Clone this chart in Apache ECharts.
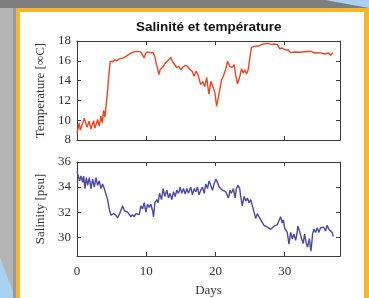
<!DOCTYPE html>
<html>
<head>
<meta charset="utf-8">
<script src="https://cdn.jsdelivr.net/npm/echarts@6/dist/echarts.min.js"></script>
<style>html,body{margin:0;padding:0;}#c{width:369px;height:298px;}</style>
</head>
<body>
<div id="c"></div>
<script>
// ---- data ----
const titleText = 'Salinité et température';
const xTicks = [0, 10, 20, 30];
const tempTicks = [8, 10, 12, 14, 16, 18];
const salTicks = [30, 32, 34, 36];

const tempDays = [0,0.33,0.48,1.05,1.44,1.77,2.01,2.40,2.59,2.97,3.21,3.45,3.65,3.84,4.03,4.22,4.41,4.61,4.80,4.99,
  5.18,5.47,5.76,6.10,6.34,6.72,7.06,7.39,7.87,8.26,8.64,8.88,9.22,9.46,9.70,9.94,10.27,10.66,10.95,11.24,
  11.43,11.62,11.82,12.01,12.20,12.49,12.78,12.97,13.26,13.54,13.83,14.12,14.41,14.70,14.99,15.27,15.66,15.95,16.33,16.62,
  16.91,17.20,17.48,17.87,18.16,18.45,18.74,
  19.06,19.35,19.54,19.78,19.93,20.17,20.41,20.65,20.89,21.13,21.47,21.75,22.09,22.43,22.71,22.91,23.19,23.53,23.77,24.01,
  24.25,24.49,24.73,24.97,25.21,25.60,26.17,26.89,27.61,28.09,28.57,28.96,29.29,29.63,30.01,30.49,30.88,31.46,32.18,32.90,
  33.76,34.34,35.06,35.78,36.36,36.64,36.98];
const temperature = [8.7,9.7,9.0,10.2,9.3,9.9,9.1,9.95,9.2,10.05,9.4,10.4,9.7,11.0,10.3,11.6,12.9,14.6,15.95,16.1,
  15.9,16.1,16.0,16.2,16.0,16.3,16.45,16.6,16.8,16.9,16.95,17.1,16.9,16.8,16.3,16.8,16.9,16.8,16.85,16.45,
  15.8,15.3,14.6,15.1,14.95,15.45,15.8,15.6,16.1,16.35,15.9,15.6,15.3,15.45,15.1,15.35,15.55,15.45,15.1,14.95,
  14.45,14.95,14.6,13.6,13.9,13.4,14.3,
  12.64,13.93,13.59,13.09,12.76,11.41,12.25,12.32,14.09,14.43,15.10,15.95,15.44,15.34,15.61,14.60,13.66,14.43,15.2,14.77,
  15.10,14.66,15.10,16.28,17.36,17.46,17.49,17.7,17.76,17.66,17.7,17.63,17.22,17.29,17.12,17.09,16.82,16.89,16.86,16.92,
  16.96,16.79,16.82,16.69,16.79,16.55,16.82];

const salDays = [0,0.19,0.38,0.58,0.82,0.96,1.15,1.35,1.54,1.78,2.02,2.26,2.50,2.74,2.98,3.22,3.46,3.70,3.94,4.18,
  4.42,4.66,4.90,5.29,5.63,5.87,6.25,6.59,6.83,7.07,7.31,7.55,7.79,8.03,8.27,8.51,8.75,8.99,9.23,9.47,
  9.71,9.95,10.19,10.43,10.67,10.91,11.06,11.25,11.54,11.73,11.92,12.21,12.45,12.69,12.98,13.22,13.46,13.70,13.94,14.18,
  14.42,14.66,14.90,15.14,15.38,15.63,15.87,16.11,16.44,16.68,16.92,17.16,17.40,17.64,17.88,18.13,18.37,18.61,18.85,19.09,
  19.33,19.57,19.81,20.05,20.29,20.53,20.77,21.01,21.25,21.49,21.73,21.88,22.12,22.31,22.60,22.84,23.03,23.27,23.51,23.65,
  23.89,24.13,24.38,24.62,24.86,25.10,25.34,25.58,25.82,26.06,26.30,26.54,26.78,27.02,27.26,27.50,27.74,27.98,28.22,28.46,
  28.70,28.94,29.18,29.42,29.66,29.81,30.00,30.19,30.38,30.63,30.87,31.11,31.35,31.59,31.73,31.92,32.21,32.45,32.69,32.88,
  33.13,33.32,33.56,33.80,34.04,34.23,34.47,34.71,34.95,35.19,35.43,35.67,35.91,36.15,36.39,36.63,36.88,37.02];
const salinity = [35.25,35.13,34.5,34.88,34.38,34.88,33.88,34.75,34.13,34.75,33.88,34.63,34.0,34.75,34.13,34.5,33.88,34.25,33.88,33.75,
  33.0,32.25,31.75,31.88,31.75,31.55,32.0,32.5,32.13,32.25,32.0,31.88,31.63,31.8,31.63,31.88,31.75,31.8,32.5,32.25,
  32.75,32.0,32.63,32.38,32.63,32.13,31.63,32.75,33.0,32.75,33.5,33.0,33.88,33.25,33.75,33.13,33.5,33.0,33.63,33.25,
  33.75,33.5,34.0,33.5,33.88,33.45,33.88,33.5,34.0,33.38,33.88,33.63,34.0,33.38,33.75,34.0,33.5,34.25,33.88,34.5,
  34.13,33.75,34.25,34.63,34.38,34.0,33.88,33.75,33.88,33.63,33.75,33.13,33.75,33.5,33.88,33.13,33.88,34.13,33.88,33.25,
  32.5,33.25,32.88,33.13,32.75,33.0,32.5,32.0,31.5,31.88,31.63,31.38,31.25,30.95,30.88,30.8,30.7,30.63,30.75,30.88,
  30.8,31.0,30.88,31.63,31.13,31.38,30.75,30.88,30.38,29.45,30.38,29.88,30.25,29.75,30.13,30.88,30.38,29.88,29.5,30.25,
  29.5,29.2,29.88,28.88,30.25,30.63,30.38,30.75,30.38,30.75,30.63,30.8,30.5,30.95,30.63,30.75,30.38,30.05];

// ---- chart ----
const serif = 'Liberation Serif';
const frame = '#3a3a3a';
const tempPairs = tempDays.map((d, i) => [d, temperature[i]]);
const salPairs = salDays.map((d, i) => [d, salinity[i]]);

function xAx(grid, pos, labels, name) {
  return {
    type: 'value', gridIndex: grid, position: pos, min: 0, max: 38,
    axisLine: { show: true, onZero: false, lineStyle: { color: frame, width: 1 } },
    axisTick: { show: true, inside: true, length: 4, customValues: xTicks, lineStyle: { color: frame } },
    axisLabel: { show: labels, customValues: xTicks, margin: 9, fontFamily: serif, fontSize: 13, color: '#333' },
    splitLine: { show: false },
    name: name || '', nameLocation: 'middle', nameGap: 28,
    nameTextStyle: { fontFamily: serif, fontSize: 13, color: '#333' }
  };
}
function yAx(grid, pos, min, max, ticks, labels, name) {
  return {
    type: 'value', gridIndex: grid, position: pos, min: min, max: max,
    axisLine: { show: true, onZero: false, lineStyle: { color: frame, width: 1 } },
    axisTick: { show: true, inside: true, length: 4, customValues: ticks, lineStyle: { color: frame } },
    axisLabel: { show: labels, customValues: ticks, margin: 6, fontFamily: serif, fontSize: 13, color: '#333' },
    splitLine: { show: false },
    name: name || '', nameLocation: 'middle', nameGap: 26,
    nameTextStyle: { fontFamily: serif, fontSize: 13, color: '#333' }
  };
}

const chart = echarts.init(document.getElementById('c'), null, { renderer: 'canvas' });
chart.setOption({
  animation: false,
  backgroundColor: '#b4b4b4',
  graphic: [
    { type: 'rect', z: -100, shape: { x: 0, y: 0, width: 369, height: 8 }, style: { fill: '#7e7e7e' } },
    { type: 'polygon', z: -99, shape: { points: [[325, 0], [369, 0], [369, 8]] }, style: { fill: '#a9d1ef' } },
    { type: 'polygon', z: -99, shape: { points: [[0, 257], [15, 298], [0, 298]] }, style: { fill: '#a9d1ef' } },
    { type: 'rect', z: -98, shape: { x: 13, y: 8, width: 3, height: 290 }, style: { fill: '#999999' } },
    { type: 'rect', z: -97, shape: { x: 16, y: 8, width: 353, height: 290 }, style: { fill: '#f7b528' } },
    { type: 'rect', z: -96, shape: { x: 20, y: 12, width: 344, height: 286 }, style: { fill: '#ffffff' } }
  ],
  title: {
    text: titleText, left: 131, top: 15,
    textStyle: { fontFamily: 'Liberation Sans', fontSize: 13.5, fontWeight: 'bold', color: '#111' }
  },
  grid: [
    { left: 77, top: 41, width: 263, height: 99 },
    { left: 77, top: 162, width: 263, height: 98 }
  ],
  xAxis: [
    xAx(0, 'bottom', false), xAx(0, 'top', false),
    xAx(1, 'bottom', true, 'Days'), xAx(1, 'top', false)
  ],
  yAxis: [
    yAx(0, 'left', 8, 18, tempTicks, true, 'Temperature [∞C]'), yAx(0, 'right', 8, 18, tempTicks, false),
    yAx(1, 'left', 28.5, 36, salTicks, true, 'Salinity [psu]'), yAx(1, 'right', 28.5, 36, salTicks, false)
  ],
  series: [
    { type: 'line', xAxisIndex: 0, yAxisIndex: 0, data: tempPairs, showSymbol: false,
      lineStyle: { color: '#ee4420', width: 1.4 } },
    { type: 'line', xAxisIndex: 2, yAxisIndex: 2, data: salPairs, showSymbol: false,
      lineStyle: { color: '#4b49a0', width: 1.4 } }
  ]
});
</script>
</body>
</html>
